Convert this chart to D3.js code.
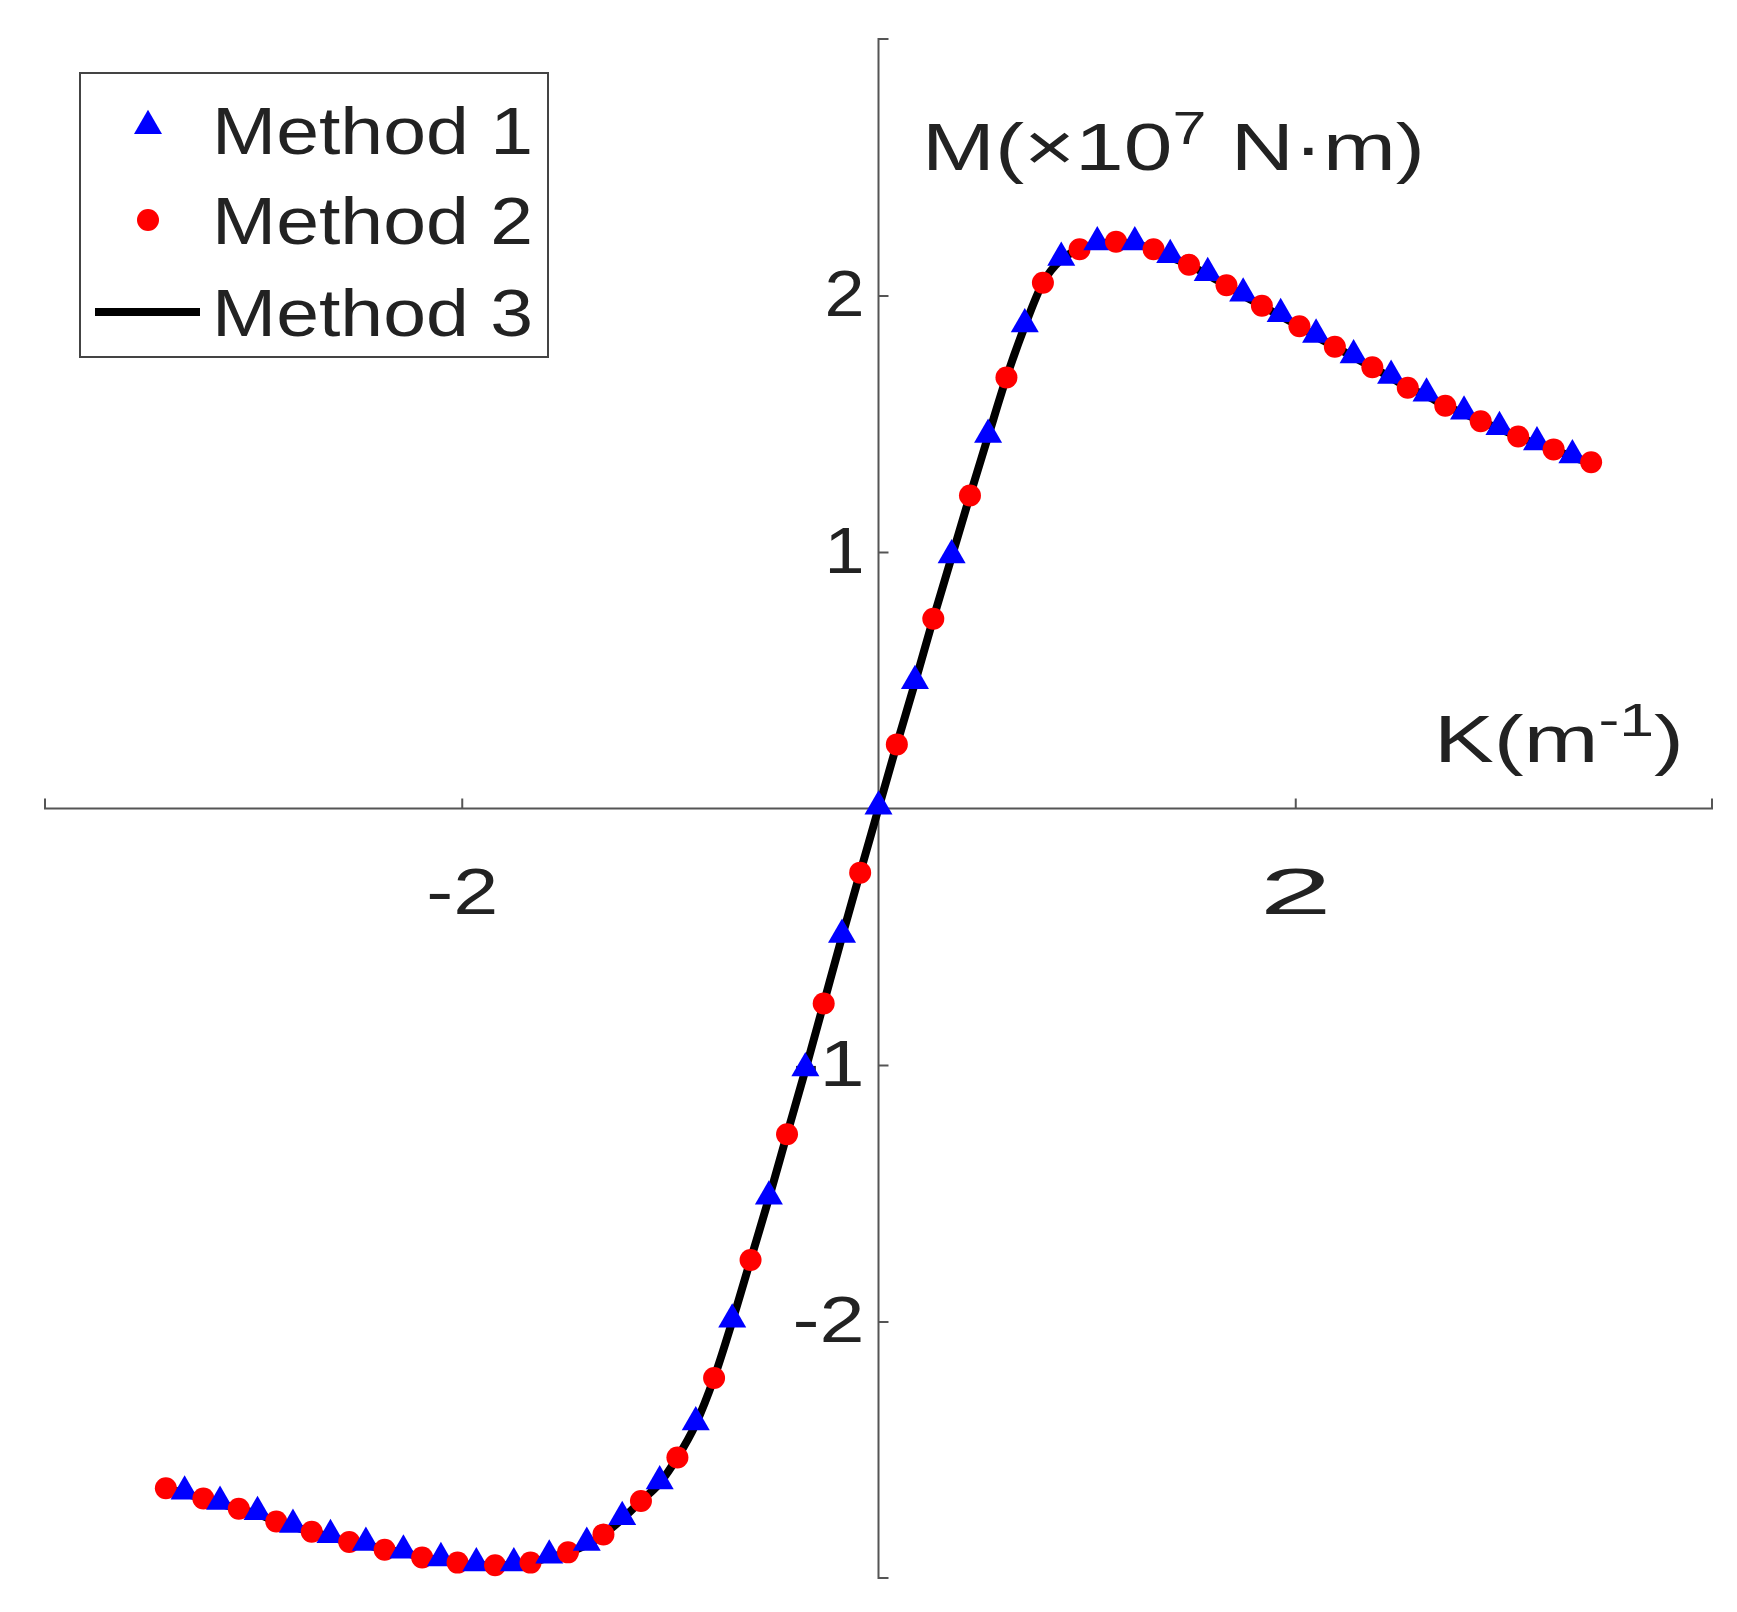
<!DOCTYPE html>
<html>
<head>
<meta charset="UTF-8" />
<script src="https://cdn.jsdelivr.net/npm/d3@7"></script>
<style>
  body { margin:0; background:#fff; }
  text { font-family: "Liberation Sans", Arial, sans-serif; fill:#222; }
</style>
</head>
<body>
<svg id="chart" width="1737" height="1612"></svg>
<script>
// curvature K (m^-1), from -3.42 to 3.42
const kValues = [
  -3.42,-3.33,-3.24,-3.16,-3.07,-2.98,-2.89,-2.81,-2.72,-2.63,-2.54,-2.46,-2.37,-2.28,-2.19,-2.10,-2.02,-1.93,-1.84,-1.75,
  -1.67,-1.58,-1.49,-1.40,-1.32,-1.23,-1.14,-1.05,-0.965,-0.877,-0.789,-0.702,-0.614,-0.526,-0.439,-0.351,-0.263,-0.175,-0.088,
  0,
  0.088,0.175,0.263,0.351,0.439,0.526,0.614,0.702,0.789,0.877,0.965,1.05,1.14,1.23,1.32,1.40,1.49,1.58,1.67,1.75,
  1.84,1.93,2.02,2.10,2.19,2.28,2.37,2.46,2.54,2.63,2.72,2.81,2.89,2.98,3.07,3.16,3.24,3.33,3.42
];
// moment M (x10^7 N·m)
const mValues = [
  -2.65,-2.67,-2.69,-2.71,-2.73,-2.75,-2.78,-2.80,-2.82,-2.84,-2.86,-2.87,-2.89,-2.90,-2.92,-2.93,-2.94,-2.95,-2.95,-2.95,
  -2.94,-2.92,-2.90,-2.87,-2.83,-2.77,-2.70,-2.63,-2.53,-2.40,-2.22,-2.00,-1.76,-1.52,-1.27,-1.02,-0.76,-0.50,-0.25,
  0,
  0.25,0.49,0.74,0.98,1.22,1.45,1.68,1.88,2.05,2.14,2.18,2.20,2.21,2.20,2.18,2.15,2.12,2.08,2.04,2.00,
  1.96,1.92,1.88,1.84,1.80,1.76,1.72,1.68,1.64,1.61,1.57,1.54,1.51,1.48,1.45,1.42,1.40,1.37,1.35
];
const xTicks = [-2, 2];
const yTicks = [-2, -1, 1, 2];
const legendLabels = ['Method 1', 'Method 2', 'Method 3'];

const svg = d3.select('#chart');
const x = d3.scaleLinear().domain([-4, 4]).range([45, 1712]);
const y = d3.scaleLinear().domain([-3, 3]).range([1578, 39]);
const axisColor = '#555';
const fmt = d => d < 0 ? '-' + Math.abs(d) : d;

// x axis through origin
const xAxis = svg.append('g').attr('transform', `translate(0,${y(0)})`)
  .call(d3.axisTop(x).tickValues(xTicks).tickSize(10));
xAxis.select('.domain').attr('stroke', axisColor).attr('stroke-width', 2)
  .attr('d', `M${x(-4)},-10V0H${x(4)}V-10`);
xAxis.selectAll('.tick line').attr('stroke', axisColor).attr('stroke-width', 2);
xAxis.selectAll('.tick text').attr('y', 105).attr('font-size', 64)
  .attr('textLength', 72).attr('lengthAdjust', 'spacingAndGlyphs').text(fmt);

// y axis through origin
const yAxis = svg.append('g').attr('transform', `translate(${x(0)},0)`)
  .call(d3.axisRight(y).tickValues(yTicks).tickSize(10));
yAxis.select('.domain').attr('stroke', axisColor).attr('stroke-width', 2)
  .attr('d', `M10,${y(3)}H0V${y(-3)}H10`);
yAxis.selectAll('.tick line').attr('stroke', axisColor).attr('stroke-width', 2);
yAxis.selectAll('.tick text').attr('x', -14).attr('text-anchor', 'end')
  .attr('font-size', 64).text(fmt)
  .attr('textLength', d => d < 0 ? 72 : 40).attr('lengthAdjust', 'spacingAndGlyphs');

// axis titles
const mt = svg.append('text').attr('x', 922).attr('y', 170).attr('font-size', 66)
  .attr('textLength', 503).attr('lengthAdjust', 'spacingAndGlyphs');
mt.append('tspan').text('M(×10');
mt.append('tspan').attr('dy', -26).attr('font-size', 46).text('7');
mt.append('tspan').attr('dy', 26).text(' N·m)');
const kt = svg.append('text').attr('x', 1434).attr('y', 762).attr('font-size', 66)
  .attr('textLength', 250).attr('lengthAdjust', 'spacingAndGlyphs');
kt.append('tspan').text('K(m');
kt.append('tspan').attr('dy', -26).attr('font-size', 46).text('-1');
kt.append('tspan').attr('dy', 26).text(')');

// Method 3 line
const pts = kValues.map((k, i) => [k, mValues[i]]);
svg.append('path').datum(pts)
  .attr('fill', 'none').attr('stroke', '#000').attr('stroke-width', 8)
  .attr('d', d3.line().x(d => x(d[0])).y(d => y(d[1])).curve(d3.curveMonotoneX));

// markers: triangles (Method 1) and circles (Method 2) alternate
const tri = d3.symbol().type(d3.symbolTriangle).size(340);
pts.forEach((d, i) => {
  if ((i % 2) === 1) {
    svg.append('path').attr('d', tri()).attr('fill', '#0000ff')
      .attr('transform', `translate(${x(d[0])},${y(d[1]) - 2})`);
  } else {
    svg.append('circle').attr('cx', x(d[0])).attr('cy', y(d[1])).attr('r', 11).attr('fill', '#ff0000');
  }
});

// legend
const lg = svg.append('g');
lg.append('rect').attr('x', 80).attr('y', 73).attr('width', 468).attr('height', 284)
  .attr('fill', '#fff').attr('stroke', '#444').attr('stroke-width', 2);
const rows = [130, 220, 312];
lg.append('path').attr('d', tri()).attr('fill', '#0000ff').attr('transform', `translate(148,${rows[0] - 4})`);
lg.append('circle').attr('cx', 148).attr('cy', rows[1]).attr('r', 11).attr('fill', '#ff0000');
lg.append('line').attr('x1', 95).attr('x2', 200).attr('y1', rows[2]).attr('y2', rows[2])
  .attr('stroke', '#000').attr('stroke-width', 8);
legendLabels.forEach((t, i) => {
  lg.append('text').attr('x', 212).attr('y', rows[i] + 24).attr('font-size', 66)
    .attr('textLength', 321).attr('lengthAdjust', 'spacingAndGlyphs').text(t);
});
</script>
</body>
</html>
